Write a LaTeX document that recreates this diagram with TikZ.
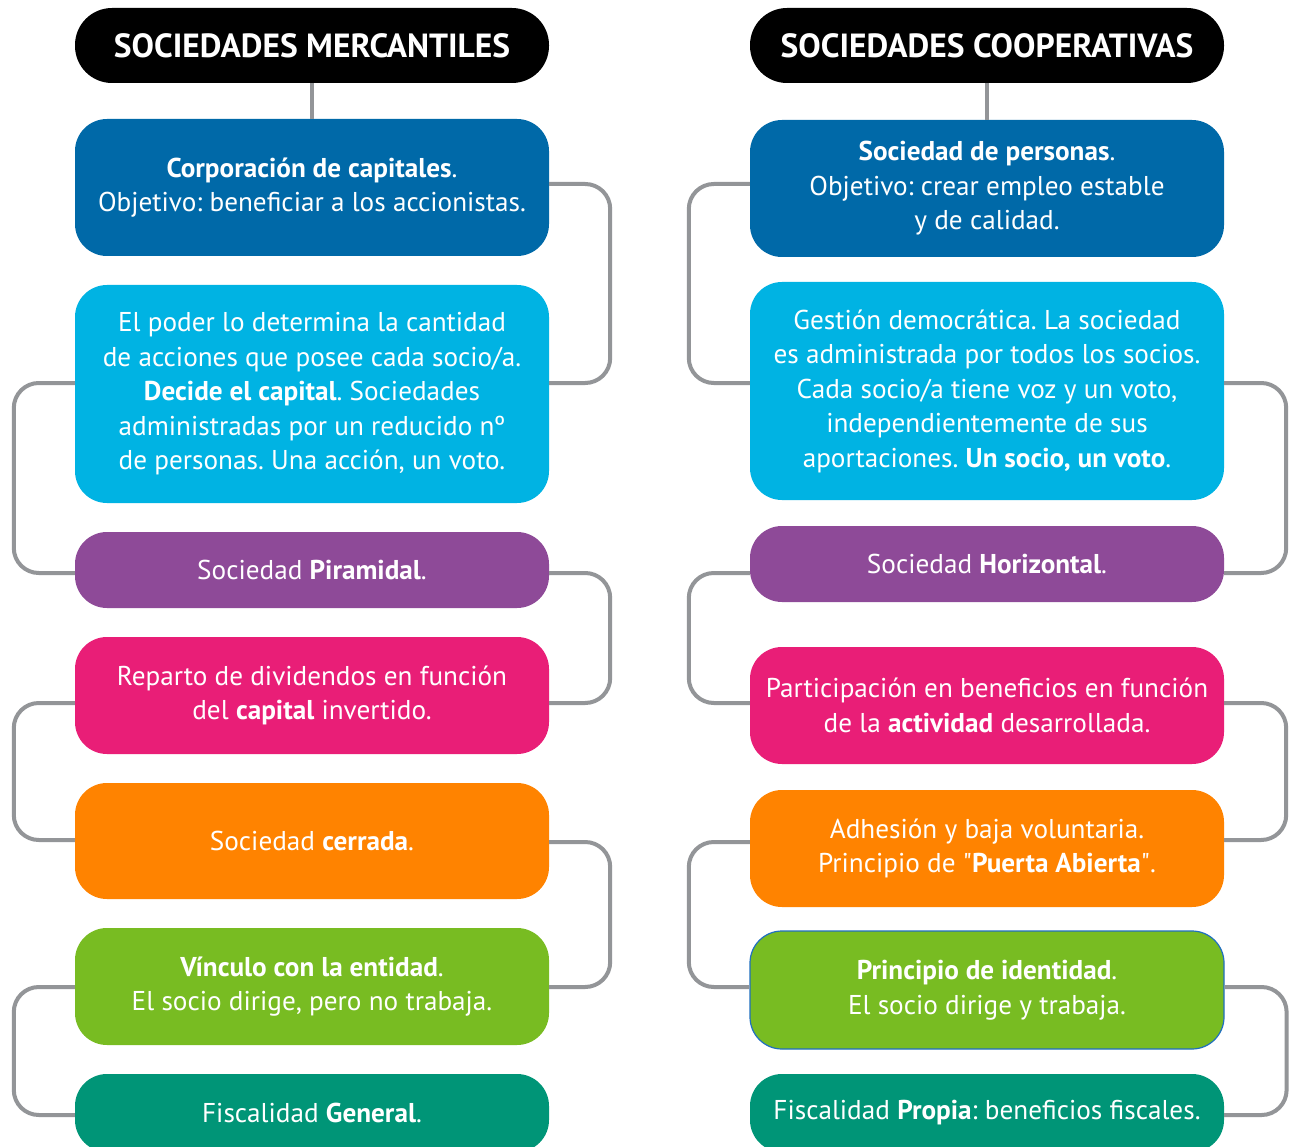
\documentclass[tikz,border=0pt]{standalone}
\usepackage{fontspec}
\setmainfont{PT Sans}
\newfontfamily\qfont{PT Sans}[Ligatures=NoCommon]
\frenchspacing
\definecolor{cHead}{HTML}{000000}
\definecolor{cBlue}{HTML}{0069A8}
\definecolor{cCyan}{HTML}{00B3E3}
\definecolor{cPurple}{HTML}{8E4A98}
\definecolor{cPink}{HTML}{E91E77}
\definecolor{cOrange}{HTML}{FF8300}
\definecolor{cGreen}{HTML}{78BC22}
\definecolor{cTeal}{HTML}{009577}
\definecolor{cGray}{HTML}{939598}
\definecolor{cBorder}{HTML}{1F6FC0}
\begin{document}
\begin{tikzpicture}[x=1pt,y=-1pt,
  box/.style={rounded corners=32pt, minimum width=474pt, text=white, align=center,
    inner sep=0pt, font=\fontsize{27.2}{34.5}\selectfont},
  headbox/.style={box, fill=cHead, rounded corners=37pt, minimum height=75pt,
    font=\fontsize{33.5}{36}\selectfont\bfseries},
  conn/.style={draw=cGray, line width=4pt, rounded corners=25pt}]
\clip (0,0) rectangle (1290,1147);
\fill[white] (0,0) rectangle (1290,1147);
% left column
\node[headbox] (LH) at (312,45.5) {SOCIEDADES MERCANTILES};
\node[box, fill=cBlue, minimum height=137pt] (L1) at (312,187.5)
  {\textbf{Corporación de capitales}.\\Objetivo: beneficiar a los accionistas.};
\node[box, fill=cCyan, minimum height=218pt] (L2) at (312,394)
  {El poder lo determina la cantidad\\de acciones que posee cada socio/a.\\\textbf{Decide el capital}. Sociedades\\administradas por un reducido nº\\de personas. Una acción, un voto.};
\node[box, fill=cPurple, minimum height=76pt] (L3) at (312,570)
  {Sociedad \textbf{Piramidal}.};
\node[box, fill=cPink, minimum height=117pt] (L4) at (312,695.5)
  {Reparto de dividendos en función\\del \textbf{capital} invertido.};
\node[box, fill=cOrange, minimum height=116pt] (L5) at (312,841)
  {Sociedad \textbf{cerrada}.};
\node[box, fill=cGreen, minimum height=117pt] (L6) at (312,986.5)
  {\textbf{Vínculo con la entidad}.\\El socio dirige, pero no trabaja.};
\node[box, fill=cTeal, minimum height=78pt] (L7) at (312,1113)
  {Fiscalidad \textbf{General}.};
% right column
\node[headbox] (RH) at (987,45.5) {SOCIEDADES COOPERATIVAS};
\node[box, fill=cBlue, minimum height=137pt] (R1) at (987,188.5)
  {\textbf{Sociedad de personas}.\\Objetivo: crear empleo estable\\y de calidad.};
\node[box, fill=cCyan, minimum height=218pt] (R2) at (987,391)
  {Gestión democrática. La sociedad\\es administrada por todos los socios.\\Cada socio/a tiene voz y un voto,\\independientemente de sus\\aportaciones. \textbf{Un socio, un voto}.};
\node[box, fill=cPurple, minimum height=76pt] (R3) at (987,564)
  {Sociedad \textbf{Horizontal}.};
\node[box, fill=cPink, minimum height=117pt] (R4) at (987,705.5)
  {Participación en beneficios en función\\de la \textbf{actividad} desarrollada.};
\node[box, fill=cOrange, minimum height=117pt] (R5) at (987,848.5)
  {Adhesión y baja voluntaria.\\Principio de {\qfont\char"22}\textbf{Puerta Abierta}{\qfont\char"22}.};
\node[box, fill=cGreen, draw=cBorder, line width=1.2pt, minimum height=118pt] (R6) at (987,990)
  {\textbf{Principio de identidad}.\\El socio dirige y trabaja.};
\node[box, fill=cTeal, minimum height=78pt] (R7) at (987,1113)
  {Fiscalidad \textbf{Propia}: beneficios fiscales.};
% connectors left
\draw[conn] (LH.south) -- (L1.north);
\draw[conn] ([yshift=3.5pt]L1.east) -- ++(61,0) |- ([yshift=11pt]L2.east);
\draw[conn] ([yshift=11pt]L2.west) -- ++(-61,0) |- ([yshift=-3pt]L3.west);
\draw[conn] ([yshift=-3pt]L3.east) -- ++(61,0) |- ([yshift=-7.5pt]L4.east);
\draw[conn] ([yshift=-7.5pt]L4.west) -- ++(-61,0) |- ([yshift=1pt]L5.west);
\draw[conn] ([yshift=-1pt]L5.east) -- ++(61,0) |- ([yshift=-0.5pt]L6.east);
\draw[conn] ([yshift=-0.5pt]L6.west) -- ++(-61,0) |- ([yshift=-2pt]L7.west);
% connectors right
\draw[conn] (RH.south) -- (R1.north);
\draw[conn] ([yshift=4.5pt]R1.west) -- ++(-61,0) |- ([yshift=8pt]R2.west);
\draw[conn] ([yshift=8pt]R2.east) -- ++(62,0) |- ([yshift=-9pt]R3.east);
\draw[conn] ([yshift=-9pt]R3.west) -- ++(-61,0) |- ([yshift=2.5pt]R4.west);
\draw[conn] ([yshift=2.5pt]R4.east) -- ++(62,0) |- ([yshift=8.5pt]R5.east);
\draw[conn] ([yshift=6.5pt]R5.west) -- ++(-61,0) |- ([yshift=3pt]R6.west);
\draw[conn] ([yshift=3pt]R6.east) -- ++(62,0) |- ([yshift=-2pt]R7.east);
\end{tikzpicture}
\end{document}
